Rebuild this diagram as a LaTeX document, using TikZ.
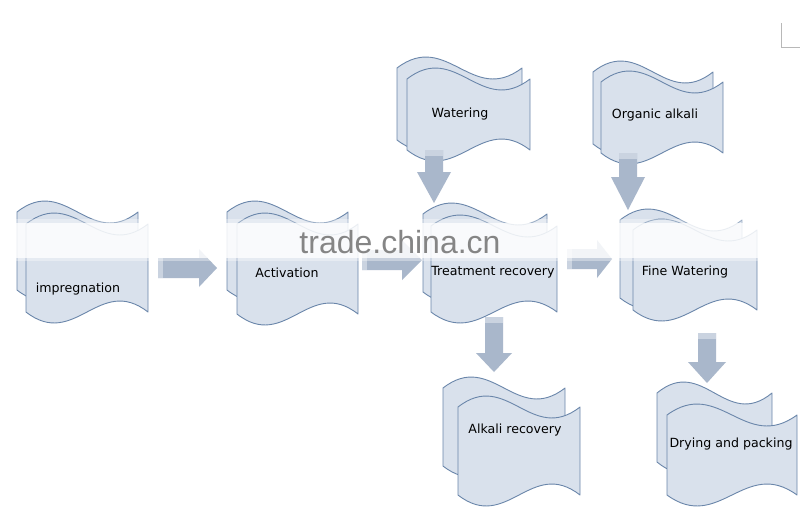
\documentclass[tikz,border=0pt]{standalone}
\usepackage{fontspec}
\setmainfont{DejaVu Sans}
\newfontfamily\wmfont{Liberation Sans}
\definecolor{docfill}{HTML}{D9E1EC}
\definecolor{docline}{HTML}{6A86AA}
\definecolor{arrfill}{HTML}{A9B7CB}
\definecolor{arrlight}{HTML}{CAD3E0}
\definecolor{wmgray}{HTML}{858585}
\definecolor{cornergray}{HTML}{B8B8B8}
\tikzset{
  doc/.style={fill=docfill, draw=docline, line width=0.9pt, line join=round},
  blockarrow/.style={fill=arrfill, draw=none},
  lbl/.style={anchor=base, font=\fontsize{12.6}{14}\selectfont, text=black, inner sep=0pt},
}
% wavy document: x, y, w, h, k
\newcommand\wdoc[5]{%
  \pgfmathsetmacro\wa{0.4*#3}%
  \path[doc] (#1,#2) .. controls +(\wa,-#5) and +(-\wa,#5) .. ++(#3,0)
     -- ++(0,#4) .. controls +(-\wa,-#5) and +(\wa,#5) .. ++(-#3,0) -- cycle;}
% right block arrow: x0, yc, xhead, xtip, shaft half, head half
\newcommand\rarrow[6]{%
  \path[blockarrow] (#1,#2-#5) -- (#3,#2-#5) -- (#3,#2-#6) -- (#4,#2)
     -- (#3,#2+#6) -- (#3,#2+#5) -- (#1,#2+#5) -- cycle;
  \fill[arrlight] (#1,#2-#5) rectangle (#1+5,#2+#5);}
% down block arrow: xc, y0, yhead, ytip, shaft half, head half
\newcommand\darrow[6]{%
  \path[blockarrow] (#1-#5,#2) -- (#1-#5,#3) -- (#1-#6,#3) -- (#1,#4)
     -- (#1+#6,#3) -- (#1+#5,#3) -- (#1+#5,#2) -- cycle;
  \fill[arrlight] (#1-#5,#2) rectangle (#1+#5,#2+6);}
\begin{document}
\begin{tikzpicture}[x=1pt,y=-1pt]
\useasboundingbox (0,0) rectangle (800,507);
\fill[white] (0,0) rectangle (800,507);

% documents (back, then front)
\wdoc{17}{212}{121}{78}{38}   \wdoc{26}{224}{122}{88}{38}
\wdoc{227}{212}{121}{78}{38}  \wdoc{237}{224}{121}{90}{38}
\wdoc{423}{214}{124}{78}{38}  \wdoc{431}{226}{126}{86}{38}
\wdoc{620}{220}{122}{78}{38}  \wdoc{633}{230}{124}{80}{38}
\wdoc{397}{68}{125}{72}{38}   \wdoc{407}{79}{123}{71}{38}
\wdoc{593}{72}{120}{72}{38}   \wdoc{601}{82}{122}{71}{38}
\wdoc{443}{388}{122}{78}{38}  \wdoc{458}{407}{122}{88}{38}
\wdoc{657}{393}{115}{69}{38}  \wdoc{667}{415}{130}{80}{38}

% labels
\node[lbl] (imp)  at (78,292)  {impregnation};
\node[lbl] (act)  at (287,277) {Activation};
\node[lbl] (trt)  at (493,275) {Treatment recovery};
\node[lbl] (fine) at (685,275) {Fine Watering};
\node[lbl] (wat)  at (460,117) {Watering};
\node[lbl] (org)  at (655,118) {Organic alkali};
\node[lbl] (alk)  at (515,433) {Alkali recovery};
\node[lbl] (dry)  at (731,447) {Drying and packing};

% block arrows
\rarrow{158}{268}{199}{217}{10}{19}
\rarrow{362}{260}{402}{422}{10}{20}
\rarrow{567}{259}{597}{612}{10}{19}
\darrow{434}{150}{172}{203}{9}{17}
\darrow{628}{153}{177}{210}{9}{17}
\darrow{494}{317}{353}{372}{9}{18}
\darrow{707}{333}{362}{383}{9}{19}

% blurred watermark band
\fill[white, opacity=0.35] (12,219) rectangle (764,261);
\fill[white, opacity=0.78] (16,223) rectangle (760,258);

% watermark text
\node[anchor=base, inner sep=0pt, text=wmgray, font=\wmfont\fontsize{32}{34}\selectfont] (wm) at (400,253) {trade.china.cn};

% page corner mark
\draw[cornergray, line width=0.7pt] (781,23) -- (781,47) -- (800,47);
\end{tikzpicture}
\end{document}
